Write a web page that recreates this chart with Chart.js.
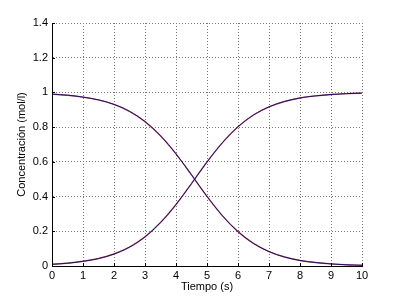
<!DOCTYPE html>
<html><head><meta charset="utf-8">
<script src="https://cdn.jsdelivr.net/npm/chart.js@4.4.0/dist/chart.umd.min.js"></script>
<style>html,body{margin:0;padding:0;background:#fff;}#w{width:400px;height:299px;}</style>
</head><body><div id="w"><canvas id="c"></canvas></div>
<script>
const tiempo = [0,0.5,1,1.5,2,2.5,3,3.5,4,4.5,5,5.5,6,6.5,7,7.5,8,8.5,9,9.5,10];
const producto = [0.010,0.016,0.027,0.043,0.069,0.109,0.168,0.250,0.354,0.475,0.599,0.711,0.802,0.870,0.917,0.948,0.968,0.980,0.988,0.993,0.996];
const reactivo = [0.990,0.984,0.973,0.957,0.931,0.891,0.832,0.750,0.646,0.525,0.401,0.289,0.198,0.130,0.083,0.052,0.032,0.020,0.012,0.007,0.004];
const xTicks = [0,1,2,3,4,5,6,7,8,9,10];
const yTicks = [0,0.2,0.4,0.6,0.8,1,1.2,1.4];

const pts = a => tiempo.map((t,i)=>({x:t,y:a[i]}));
const font = {family:'"Liberation Sans", Arial, sans-serif', size:11};
const gridCfg = {color:'#777', lineWidth:1, drawTicks:false};
const line = (a,c,w) => ({data:pts(a), borderColor:c, borderWidth:w, pointRadius:0, cubicInterpolationMode:'monotone'});
new Chart(document.getElementById('c'), {
  type:'line',
  data:{datasets:[
    line(reactivo,'#1a1060',1), line(producto,'#1a1060',1),
    line(reactivo,'rgba(170,30,70,0.75)',1.4), line(producto,'rgba(170,30,70,0.75)',1.4)
  ]},
  options:{
    responsive:true, maintainAspectRatio:false, animation:false,
    layout:{padding:{left:15,right:38,top:23,bottom:0}},
    plugins:{legend:{display:false}, tooltip:{enabled:false}},
    scales:{
      x:{type:'linear', min:0, max:10,
        afterBuildTicks:s=>{s.ticks = xTicks.map(v=>({value:v}));},
        afterFit:s=>{s.height = 33;},
        grid:{...gridCfg},
        border:{display:true, color:'#000', width:1, dash:[1,2]},
        ticks:{font, color:'#000', padding:3, maxRotation:0},
        title:{display:true, text:'Tiempo (s)', font, color:'#000', padding:{top:0,bottom:5}}
      },
      y:{min:0, max:1.4,
        afterBuildTicks:s=>{s.ticks = yTicks.map(v=>({value:v}));},
        afterFit:s=>{s.width = 37;},
        grid:{...gridCfg},
        border:{display:true, color:'#000', width:1, dash:[1,2]},
        ticks:{font, color:'#000', padding:4, callback:v=>String(+v.toFixed(1))},
        title:{display:true, text:'Concentración (mol/l)', font, color:'#000', padding:{top:0,bottom:0}}
      }
    }
  },
  plugins:[{
    id:'innerTicks',
    afterDraw(chart){
      const {ctx, scales:{x,y}, chartArea:a} = chart;
      ctx.save();
      ctx.strokeStyle='#000'; ctx.lineWidth=1; ctx.setLineDash([]);
      ctx.beginPath();
      xTicks.forEach(v=>{const p=Math.round(x.getPixelForValue(v))+0.5; ctx.moveTo(p,a.bottom); ctx.lineTo(p,a.bottom-3);});
      yTicks.forEach(v=>{const p=Math.round(y.getPixelForValue(v))+0.5; ctx.moveTo(a.left,p); ctx.lineTo(a.left+3,p);});
      ctx.moveTo(a.left+0.5,a.top); ctx.lineTo(a.left+0.5,a.bottom);
      ctx.moveTo(a.left,a.bottom+0.5); ctx.lineTo(a.right,a.bottom+0.5);
      ctx.stroke();
      ctx.restore();
    }
  }]
});
</script></body></html>
